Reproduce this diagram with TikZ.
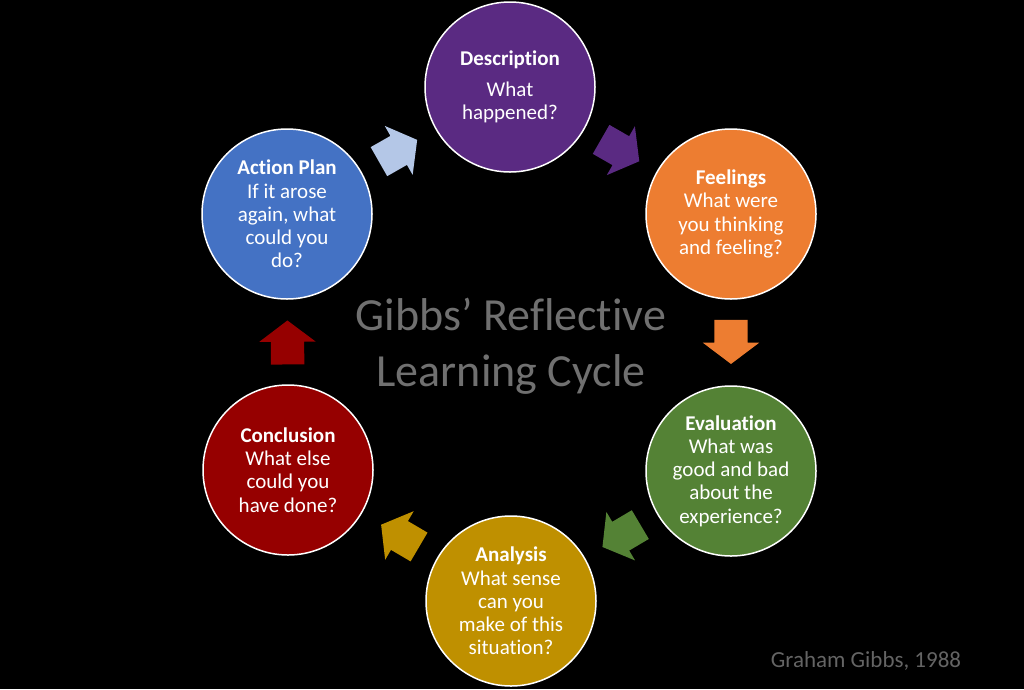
\documentclass[tikz,border=0pt]{standalone}
\usepackage{fontspec}
\setmainfont{Carlito}[Ligatures=NoCommon]
\usetikzlibrary{shapes.arrows}
\definecolor{cpurple}{RGB}{90,42,130}
\definecolor{corange}{RGB}{237,125,49}
\definecolor{cgreen}{RGB}{84,130,53}
\definecolor{cgold}{RGB}{191,144,0}
\definecolor{cred}{RGB}{150,0,0}
\definecolor{cblue}{RGB}{68,114,196}
\definecolor{clight}{RGB}{180,199,231}
\definecolor{ctitle}{RGB}{112,112,112}
\definecolor{ccredit}{RGB}{100,100,100}
\begin{document}
\begin{tikzpicture}[x=1pt,y=-1pt,
  stage/.style={circle,draw=white,line width=1.5pt,minimum size=170pt,inner sep=0pt,
    text=white,align=center,font=\fontsize{21}{23.3}\selectfont},
  blockarrow/.style={single arrow,minimum height=44pt,minimum width=56pt,
    single arrow head extend=11.5pt,single arrow tip angle=106,
    inner xsep=0pt,inner ysep=16.5pt,pos=0.42,
    draw=none,sloped,allow upside down}]
\fill[black] (0,0) rectangle (1024,689);
\useasboundingbox (0,0) rectangle (1024,689);

\node[stage,fill=cpurple] (D) at (510,87) {\textbf{Description}\\[7pt]What\\happened?};
\node[stage,fill=corange] (F) at (731,214) {\textbf{Feelings}\\What were\\you thinking\\and feeling?};
\node[stage,fill=cgreen] (E) at (731,471) {\textbf{Evaluation}\\What was\\good and bad\\about the\\experience?};
\node[stage,fill=cgold] (A) at (511,601) {\textbf{Analysis}\\What sense\\can you\\make of this\\situation?};
\node[stage,fill=cred] (C) at (288,470) {\textbf{Conclusion}\\What else\\could you\\have done?};
\node[stage,fill=cblue] (P) at (287,214) {\textbf{Action Plan}\\If it arose\\again, what\\could you\\do?};

\path (P) -- (D) node[blockarrow,fill=clight] (a1) {};
\path (D) -- (F) node[blockarrow,fill=cpurple] (a2) {};
\path (F) -- (E) node[blockarrow,fill=corange] (a3) {};
\path (E) -- (A) node[blockarrow,fill=cgreen] (a4) {};
\path (A) -- (C) node[blockarrow,fill=cgold] (a5) {};
\path (C) -- (P) node[blockarrow,fill=cred] (a6) {};

\node[text=ctitle,align=center,font=\fontsize{46}{56}\selectfont] (T) at (511,346) {Gibbs’ Reflective\\Learning Cycle};
\node[text=ccredit,font=\fontsize{23}{27}\selectfont] (G) at (866,661) {Graham Gibbs, 1988};
\end{tikzpicture}
\end{document}
